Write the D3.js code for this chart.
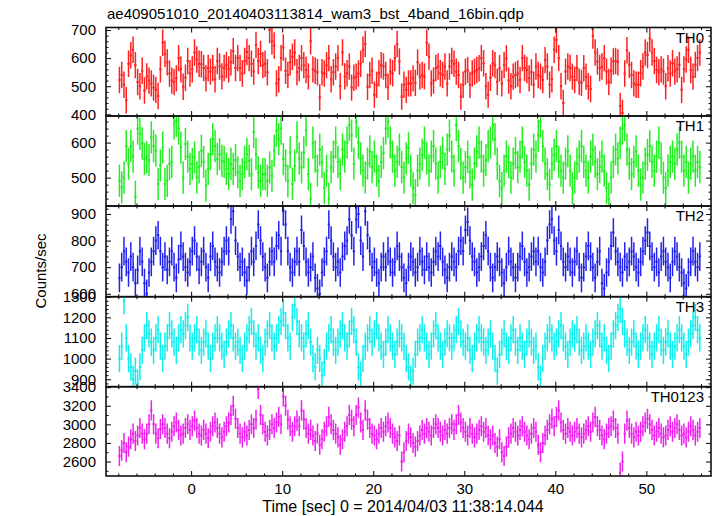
<!DOCTYPE html>
<html><head><meta charset="utf-8">
<script src="https://cdn.jsdelivr.net/npm/d3@7"></script>
<style>
body{margin:0;background:#fff}
svg text{font-family:"Liberation Sans",Arial,Helvetica,sans-serif;fill:#000}
</style>
</head><body>
<svg id="c" width="717" height="516"></svg>
<script>
// ---- data (0.25 s bins starting at t = -8 s) ----
const binStart = -8;
const binWidth = 0.25;
const seriesNames = ["TH0", "TH1", "TH2", "TH3", "TH0123"];
const seriesColors = ["#ff2020", "#22ee22", "#2222ee", "#11eeee", "#ee22ee"];
const seriesErrors = [47, 46, 54, 66, 108];

const th0 = [
522,540,505,450, 580,610,630,575, 515,500,555,485, 535,520,510,495,
487,465,560,655, 615,585,545,520, 515,528,600,560, 498,530,590,545,
560,620,595,580, 578,565,528,565, 552,565,525,590, 570,535,565,575,
560,585,625,565, 600,565,545,590, 622,600,580,552, 647,590,615,575,
580,550,700,660, 645,510,525,600, 638,555,540,585, 605,620,550,565,
600,575,558,535, 660,560,555,550, 460,550,545,575, 600,525,550,570,
600,500,620,535, 546,570,495,530, 534,545,580,630, 650,498,540,555,
470,505,546,575, 570,540,498,552, 546,600,650,588, 463,505,487,510,
510,528,512,585, 534,540,535,655, 605,510,520,565, 570,546,540,570,
510,570,590,580, 552,540,463,505, 552,558,505,545, 552,558,564,600,
582,500,470,530, 582,575,516,564, 510,576,599,520, 500,534,540,545,
522,600,565,558, 528,550,505,570, 540,534,522,593, 570,505,525,630,
665,600,500,440, 552,570,565,534, 522,565,516,512, 564,534,500,490,
680,620,588,565, 570,600,552,515, 555,588,590,585, 430,405,545,628,
576,540,510,505, 505,546,570,620, 611,670,620,590, 558,550,560,552,
500,564,545,582, 552,560,576,487, 560,595,630,558, 534,576,600,620
];
const th1 = [
491,472,500,590, 540,590,560,445, 640,625,598,553, 558,550,615,590,
577,482,535,586, 482,491,539,545, 655,662,640,586, 500,596,560,525,
539,558,501,530, 577,545,477,525, 567,610,590,553, 567,548,545,525,
510,539,525,550, 515,491,510,545, 567,548,510,630, 567,515,491,510,
510,491,529,505, 577,634,610,640, 553,535,490,572, 482,534,615,555,
529,572,635,510, 440,600,560,520, 580,545,470,520, 440,530,560,600,
545,510,580,560, 600,650,620,540, 660,600,555,520, 500,540,575,530,
560,520,490,545, 570,640,660,600, 560,520,545,580, 530,500,555,585,
520,470,450,520, 540,565,600,555, 520,560,590,540, 500,545,570,525,
580,620,560,520, 650,590,540,500, 530,560,515,480, 540,575,600,560,
520,550,590,600, 650,610,540,490, 470,520,560,545, 500,540,570,530,
560,600,545,520, 480,540,580,560, 620,660,590,540, 510,480,540,565,
590,545,520,500, 540,575,520,470, 500,540,560,590, 545,520,500,560,
580,545,510,530, 560,520,470,440, 500,545,580,555, 600,640,650,580,
540,510,545,575, 520,480,500,540, 565,590,545,520, 560,600,555,500,
470,520,545,560, 540,580,600,560, 520,545,500,540, 560,520,545,530
];
const th2 = [
660,700,760,720, 680,740,700,640, 690,760,720,640, 600,680,720,760,
800,820,760,700, 740,690,720,760, 700,660,730,780, 740,700,680,720,
760,800,740,690, 720,760,700,660, 740,780,720,700, 680,720,760,800,
760,880,910,800, 740,700,720,680, 650,700,760,720, 780,860,800,740,
700,660,720,760, 720,780,820,760, 910,860,760,700, 680,720,760,720,
840,780,720,680, 700,740,660,620, 600,680,720,760, 860,800,740,700,
720,680,740,780, 800,880,820,760, 880,900,800,740, 910,820,760,700,
720,680,640,700, 740,700,760,720, 680,720,780,740, 700,660,640,700,
740,720,680,700, 760,720,690,740, 700,680,720,760, 740,780,720,690,
660,700,740,720, 700,760,800,760, 840,870,800,740, 720,680,700,740,
780,820,760,700, 660,700,740,720, 680,640,700,760, 720,700,660,700,
740,780,720,680, 700,740,760,720, 760,700,680,720, 800,860,880,800,
760,840,780,720, 700,740,720,680, 720,760,700,660, 700,740,780,740,
700,660,720,760, 640,620,680,720, 780,830,760,720, 700,680,740,700,
720,760,740,700, 680,720,760,800, 830,780,740,700, 720,680,740,760,
720,700,660,720, 760,740,700,680, 640,620,680,720, 760,720,700,740
];
const th3 = [
1000,1060,1280,1100, 1000,960,900,940, 880,960,1040,1100, 1160,1120,1080,1040,
1100,1140,1060,1000, 1060,1100,1160,1120, 1080,1040,1100,1140, 1120,1160,1200,1100,
1060,1100,1140,1080, 1040,1080,1120,1060, 1000,1060,1100,1140, 1100,1060,1020,1080,
1120,1160,1100,1060, 1080,1040,1000,1060, 1100,1140,1180,1120, 1060,1100,1040,1000,
1080,1120,1160,1100, 1060,1100,1140,1180, 1220,1160,1100,1060, 1200,1260,1180,1120,
1100,1060,1120,1160, 1080,1000,960,1040, 1000,920,980,1060, 1100,1140,1080,1040,
1080,1120,1160,1100, 1060,1120,1180,1140, 1080,960,920,1000, 1060,1100,1140,1080,
1120,1160,1100,1060, 1020,1080,1140,1100, 1060,1020,1080,1120, 1100,1060,1000,960,
900,940,1020,1080, 1100,1140,1100,1060, 1020,1060,1120,1160, 1100,1060,1020,1080,
1120,1100,1060,1100, 1140,1180,1120,1080, 1060,1100,1040,1000, 1060,1100,1140,1100,
1080,1040,1080,1120, 1060,1000,940,1020, 1080,1120,1060,1040, 1100,1140,1080,1040,
1100,1060,1020,1080, 1120,1080,1040,1060, 960,900,1000,1060, 1100,1140,1100,1060,
1080,1120,1160,1100, 1060,1020,1080,1120, 1100,1140,1080,1040, 1060,1100,1060,1020,
1080,1120,1160,1120, 1060,1100,1040,1000, 1060,1120,1160,1200, 1240,1180,1120,1080,
1040,1080,1120,1060, 1020,1060,1100,1140, 1100,1060,1020,1060, 1100,1140,1080,1040,
1080,1120,1060,1020, 1060,1100,1140,1100, 1060,1020,1080,1120, 1160,1200,1140,1100
];
const th0123 = [
2660,2720,2800,2700, 2760,2840,2900,2820, 2880,2960,2900,2840, 2900,3000,3150,3000,
2900,2850,2950,3000, 2960,2900,2850,2920, 2980,3020,2940,2880, 2900,2960,3000,2940,
2980,3040,2960,2900, 2880,2940,2900,2850, 2920,2980,3020,2960, 2900,2860,2920,2980,
3020,3100,3200,3060, 2960,2900,2860,2920, 2880,2940,3000,2960, 3050,3380,3100,3000,
2920,2880,2940,3000, 2960,3020,3080,3000, 3300,3200,3050,2980, 2920,2980,3040,2980,
3150,3050,2960,2900, 2940,2880,2820,2900, 2780,2840,2920,2980, 3080,3000,2940,2900,
2860,2780,2840,2920, 2980,3100,3050,2980, 3100,3180,3020,2940, 3150,3050,2960,2900,
2880,2840,2900,2960, 2920,2980,3020,2960, 2900,2860,2820,2880, 2600,2700,2820,2900,
2860,2800,2760,2820, 2880,2940,2900,2960, 2920,2880,2960,3000, 2960,2920,2880,2940,
2900,2960,3000,2940, 3000,3100,3020,2960, 2920,2880,2960,2900, 2860,2900,2940,2980,
2920,2960,2880,2840, 2880,2800,2760,2840, 2700,2660,2760,2860, 2900,2960,2920,2880,
2940,2980,2920,2880, 2840,2900,2960,2920, 2780,2700,2800,2880, 2940,3000,3060,2980,
3080,3150,3020,2940, 2900,2960,2920,2880, 2920,2960,2900,2860, 2900,2940,2980,2920,
3020,3080,2980,2940, 2880,2840,2900,2960, 2980,3040,2960,2900, 2480,2600,2900,3040,
2960,2900,2860,2920, 2880,2920,2980,3020, 3060,3000,2940,2880, 2920,2960,2900,2860,
2880,2940,2980,2920, 2960,3000,2940,2880, 2900,2860,2920,2980, 2940,2880,2920,2960
];
const seriesValues = [th0, th1, th2, th3, th0123];

// axis ranges and ticks
const xDomain = [-9.35, 57.1];
const xMajorTicks = [0, 10, 20, 30, 40, 50];
const yDomains = [[394, 709], [419, 676], [589, 930], [864, 1300], [2444, 3405]];
const yMajorTicks = [[400, 500, 600, 700], [500, 600], [600, 700, 800, 900],
                     [900, 1000, 1100, 1200, 1300], [2600, 2800, 3000, 3200, 3400]];
const yMinorStep = [20, 20, 20, 20, 100];

const titleText = "ae409051010_20140403113814_wam3_bst_4band_16bin.qdp";
const xLabel = "Time [sec] 0 = 2014/04/03 11:38:14.044";
const yLabel = "Counts/sec";

// ---- layout ----
const left = 106, right = 711;
const panelEdges = [27.5, 116, 206, 296.7, 386.7, 476];
const svg = d3.select("#c");
const x = d3.scaleLinear().domain(xDomain).range([left, right]);
const xMinorTicks = d3.range(-8, 57, 2).filter(v => v % 10 !== 0);

seriesValues.forEach((vals, k) => {
  const top = panelEdges[k], bot = panelEdges[k + 1];
  const y = d3.scaleLinear().domain(yDomains[k]).range([bot, top]);
  const err = seriesErrors[k];
  const col = seriesColors[k];

  const clipId = "clip" + k;
  svg.append("clipPath").attr("id", clipId).append("rect")
    .attr("x", left).attr("y", top).attr("width", right - left).attr("height", bot - top);

  const g = svg.append("g").attr("clip-path", `url(#${clipId})`);
  const tc = i => binStart + (i + 0.5) * binWidth;

  g.selectAll("line.e").data(vals).join("line").attr("class", "e")
    .attr("x1", (d, i) => x(tc(i))).attr("x2", (d, i) => x(tc(i)))
    .attr("y1", d => y(d - err)).attr("y2", d => y(d + err))
    .attr("stroke", col).attr("stroke-width", 1.5);

  g.selectAll("line.h").data(vals).join("line").attr("class", "h")
    .attr("x1", (d, i) => x(tc(i) - binWidth / 2)).attr("x2", (d, i) => x(tc(i) + binWidth / 2))
    .attr("y1", d => y(d)).attr("y2", d => y(d))
    .attr("stroke", col).attr("stroke-width", 2);

  // y minor ticks
  const [y0, y1] = yDomains[k];
  const step = yMinorStep[k];
  const yMinor = d3.range(Math.ceil(y0 / step) * step, y1 + 0.001, step)
    .filter(v => !yMajorTicks[k].includes(v));

  const axG = svg.append("g").attr("class", "axes");
  const styleAxis = sel => {
    sel.select(".domain").remove();
    sel.selectAll(".tick line").attr("stroke", "#000").attr("stroke-width", 1);
    sel.selectAll("text").attr("font-size", 15);
  };
  axG.append("g").attr("transform", `translate(${left},0)`)
    .call(d3.axisLeft(y).tickValues(yMajorTicks[k]).tickSize(-5).tickPadding(10).tickFormat(d3.format("d")))
    .call(styleAxis);
  axG.append("g").attr("transform", `translate(${left},0)`)
    .call(d3.axisLeft(y).tickValues(yMinor).tickSize(-2.5).tickFormat(""))
    .call(styleAxis);
  axG.append("g").attr("transform", `translate(${right},0)`)
    .call(d3.axisRight(y).tickValues(yMajorTicks[k]).tickSize(-5).tickFormat(""))
    .call(styleAxis);
  axG.append("g").attr("transform", `translate(${right},0)`)
    .call(d3.axisRight(y).tickValues(yMinor).tickSize(-2.5).tickFormat(""))
    .call(styleAxis);

  // x ticks top and bottom of each panel
  const isBottom = k === seriesValues.length - 1;
  axG.append("g").attr("transform", `translate(0,${bot})`)
    .call(d3.axisBottom(x).tickValues(xMajorTicks).tickSize(-5).tickPadding(7.5)
      .tickFormat(isBottom ? d3.format("d") : ""))
    .call(styleAxis);
  axG.append("g").attr("transform", `translate(0,${bot})`)
    .call(d3.axisBottom(x).tickValues(xMinorTicks).tickSize(-2.5).tickFormat(""))
    .call(styleAxis);
  axG.append("g").attr("transform", `translate(0,${top})`)
    .call(d3.axisTop(x).tickValues(xMajorTicks).tickSize(-5).tickFormat(""))
    .call(styleAxis);
  axG.append("g").attr("transform", `translate(0,${top})`)
    .call(d3.axisTop(x).tickValues(xMinorTicks).tickSize(-2.5).tickFormat(""))
    .call(styleAxis);

  // frame
  svg.append("rect").attr("x", left).attr("y", top)
    .attr("width", right - left).attr("height", bot - top)
    .attr("fill", "none").attr("stroke", "#111").attr("stroke-width", 1.6);

  // panel label
  svg.append("text").attr("x", 704).attr("y", top + 15)
    .attr("text-anchor", "end").attr("font-size", 15).text(seriesNames[k]);
});

svg.append("text").attr("x", 107).attr("y", 19).attr("font-size", 15).text(titleText);
svg.append("text").attr("x", 403).attr("y", 512)
  .attr("text-anchor", "middle").attr("font-size", 16).text(xLabel);
svg.append("text").attr("transform", "translate(46,271) rotate(-90)")
  .attr("text-anchor", "middle").attr("font-size", 15).text(yLabel);
</script>
</body></html>
